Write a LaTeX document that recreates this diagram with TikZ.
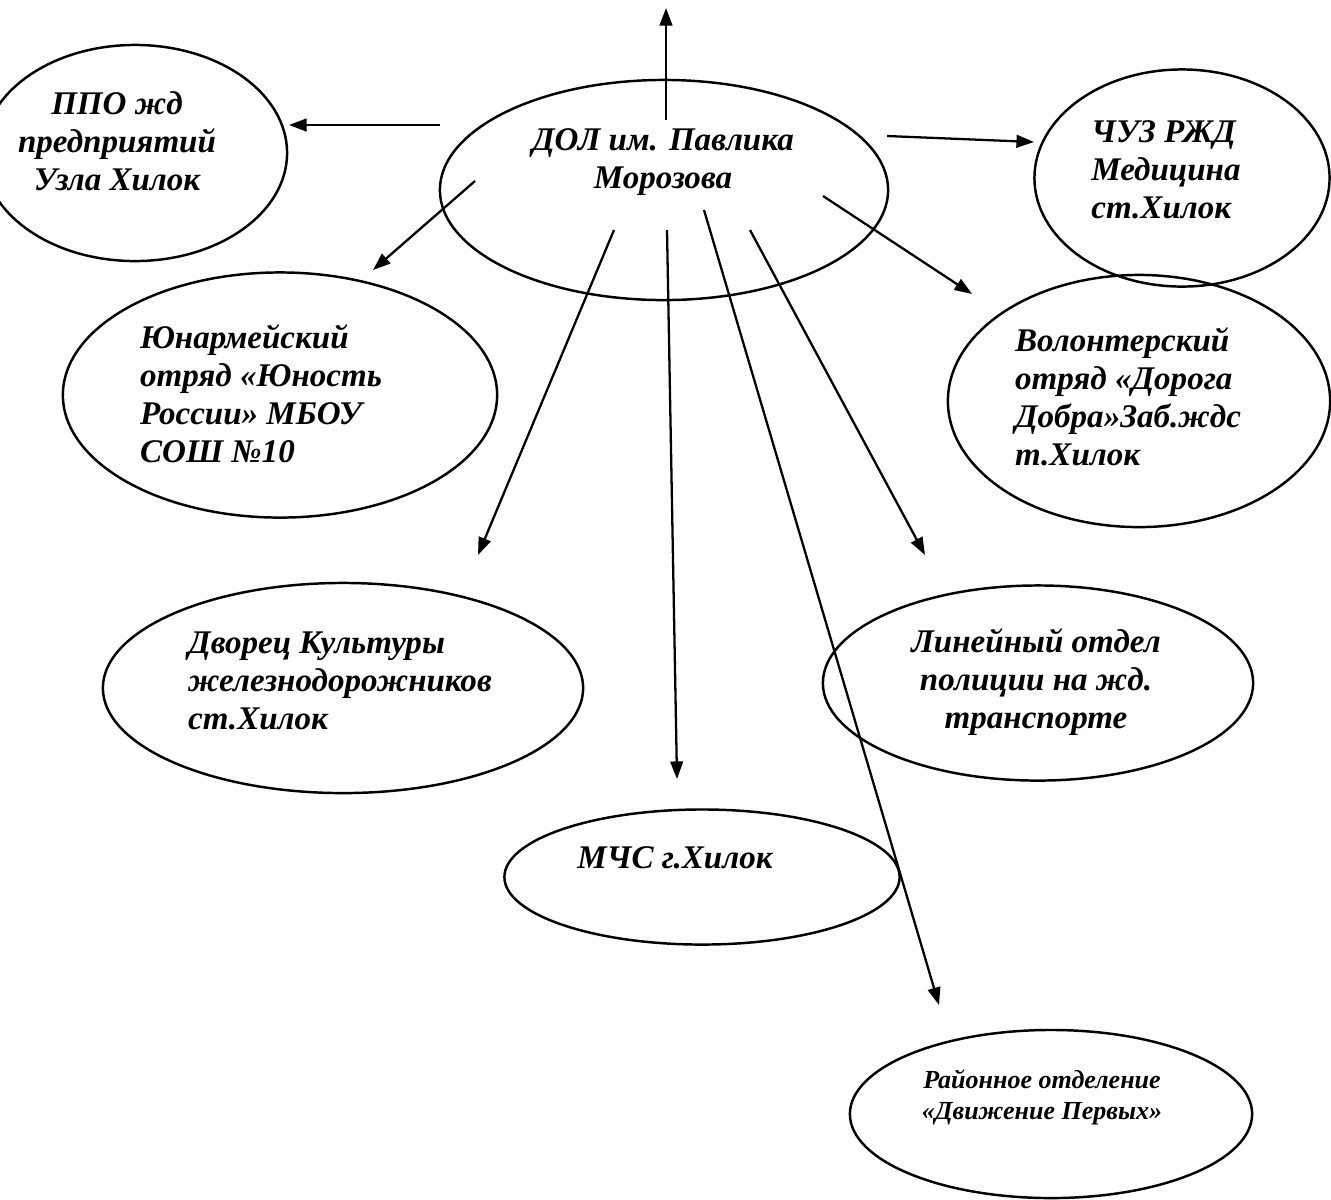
\documentclass[tikz,border=0pt]{standalone}
\usepackage{fontspec}
\setmainfont{Liberation Serif}
\usetikzlibrary{shapes.geometric,arrows.meta,calc}

\tikzset{
    org/.style 2 args={ellipse, draw, line width=0.7pt, minimum width=#1, minimum height=#2, inner sep=0pt},
    lbl/.style={font=\bfseries\itshape\fontsize{9.4}{10.8}\selectfont, inner sep=0pt},
    small lbl/.style={font=\bfseries\itshape\fontsize{7.4}{8.8}\selectfont, inner sep=0pt, align=center},
    link/.style={line width=0.65pt, -{Triangle[length=5pt,width=3.6pt]}},
}

\begin{document}
\begin{tikzpicture}[x=0.01cm, y=-0.01cm]
\useasboundingbox (0,0) rectangle (1331,1199);

% Ellipses: centre, width, height (in px of the sheet).
\node[org={4.48cm}{2.20cm}] (dol)   at (664,190)  {};
\node[org={3.04cm}{2.16cm}] (ppo)   at (135,153)  {};
\node[org={2.95cm}{2.17cm}] (chuz)  at (1182,178) {};
\node[org={4.34cm}{2.45cm}] (yun)   at (280,395)  {};
\node[org={3.82cm}{2.52cm}] (vol)   at (1139,401) {};
\node[org={4.80cm}{2.10cm}] (dvor)  at (343,688)  {};
\node[org={4.30cm}{1.95cm}] (lin)   at (1038,683) {};
\node[org={3.95cm}{1.35cm}] (mchs)  at (702,877)  {};
\node[org={4.02cm}{1.68cm}] (rayon) at (1051,1114) {};

% Arrow ends.
\coordinate (up1)    at (666,120);   \coordinate (up2)    at (666,8);
\coordinate (ppo1)   at (440,125);   \coordinate (ppo2)   at (289,125);
\coordinate (chuz1)  at (887,136);   \coordinate (chuz2)  at (1034,142);
\coordinate (yun1)   at (475,181);   \coordinate (yun2)   at (373,270);
\coordinate (vol1)   at (823,196);   \coordinate (vol2)   at (972,294);
\coordinate (dvor1)  at (614,230);   \coordinate (dvor2)  at (478,555);
\coordinate (mchs1)  at (667,230);   \coordinate (mchs2)  at (677,779);
\coordinate (lin1)   at (750,230);   \coordinate (lin2)   at (925,555);
\coordinate (rayon1) at (704,210);   \coordinate (rayon2) at (939,1005);

\draw[link] (up1) -- (up2);
\draw[link] (ppo1) -- (ppo2);
\draw[link] (chuz1) -- (chuz2);
\draw[link] (yun1) -- (yun2);
\draw[link] (vol1) -- (vol2);
\draw[link] (dvor1) -- (dvor2);
\draw[link] (mchs1) -- (mchs2);
\draw[link] (lin1) -- (lin2);
\draw[link] (rayon1) -- (rayon2);

\node[lbl, align=center] (dol text)   at ($ (dol) + (-1,-28) $)   {ДОЛ им. Павлика\\Морозова};
\node[lbl, align=center] (ppo text)   at ($ (ppo) + (-18,-12) $)  {ППО жд\\предприятий\\Узла Хилок};
\node[lbl, align=left]   (chuz text)  at ($ (chuz) + (-16,-8) $)  {ЧУЗ РЖД\\Медицина\\ст.Хилок};
\node[lbl, align=left]   (yun text)   at ($ (yun) + (-19,-1) $)   {Юнармейский\\отряд «Юность\\России» МБОУ\\СОШ №10};
\node[lbl, align=left]   (vol text)   at ($ (vol) + (-11,-4) $)   {Волонтерский\\отряд «Дорога\\Добра»Заб.ждс\\т.Хилок};
\node[lbl, align=left]   (dvor text)  at ($ (dvor) + (-3,-7) $)   {Дворец Культуры\\железнодорожников\\ст.Хилок};
\node[lbl, align=center] (lin text)   at ($ (lin) + (-2,-1) $)    {Линейный отдел\\полиции на жд.\\транспорте};
\node[lbl, align=center] (mchs text)  at ($ (mchs) + (-27,-19) $) {МЧС г.Хилок};
\node[small lbl]         (rayon text) at ($ (rayon) + (-9,-17) $) {Районное отделение\\«Движение Первых»};
\end{tikzpicture}
\end{document}
